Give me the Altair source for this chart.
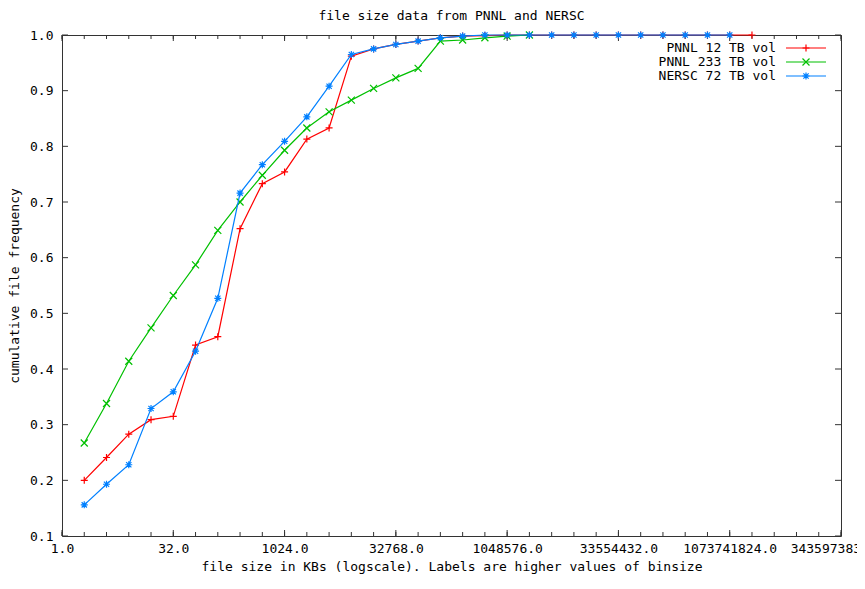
import altair as alt
import pandas as pd

# ---------------- data ----------------
series_names = ["PNNL 12 TB vol", "PNNL 233 TB vol", "NERSC 72 TB vol"]
series_colors = ["#ff0000", "#00c000", "#0080ff"]
legend_rows = [0, 1, 2]

# upper bin edge in KB (x values)
bin_kb = [2, 4, 8, 16, 32, 64, 128, 256, 512, 1024, 2048, 4096, 8192, 16384,
          32768, 65536, 131072, 262144, 524288, 1048576, 2097152, 4194304,
          8388608, 16777216, 33554432, 67108864, 134217728, 268435456,
          536870912, 1073741824, 2147483648]

pnnl12 = [0.200, 0.241, 0.283, 0.309, 0.315, 0.443, 0.458, 0.652, 0.733, 0.754,
          0.813, 0.833, 0.962, 0.975, 0.983, 0.989, 0.995, 0.998, 0.999, 1.0,
          1.0, 1.0, 1.0, 1.0, 1.0, 1.0, 1.0, 1.0, 1.0, 1.0, 1.0]
pnnl233 = [0.267, 0.338, 0.414, 0.474, 0.532, 0.587, 0.649, 0.700, 0.748, 0.793,
           0.833, 0.862, 0.883, 0.904, 0.923, 0.940, 0.989, 0.991, 0.995, 0.998,
           1.0]
nersc72 = [0.156, 0.193, 0.228, 0.329, 0.359, 0.432, 0.527, 0.716, 0.767, 0.809,
           0.853, 0.908, 0.965, 0.975, 0.983, 0.989, 0.995, 0.998, 1.0, 1.0,
           1.0, 1.0, 1.0, 1.0, 1.0, 1.0, 1.0, 1.0, 1.0, 1.0]

x_major = [1, 32, 1024, 32768, 1048576, 33554432, 1073741824, 34359738368]
x_minor = [2 ** k for k in range(36)]
y_ticks = [0.1, 0.2, 0.3, 0.4, 0.5, 0.6, 0.7, 0.8, 0.9, 1.0]

title_text = "file size data from PNNL and NERSC"
x_title = "file size in KBs (logscale). Labels are higher values of binsize"
y_title = "cumulative file frequency"

# ---------------- styling ----------------
FONT = "DejaVu Sans Mono"
FS = 13
W, H = 779, 501
BORDER = "#333333"
shape_paths = [
    "M-1,0L1,0M0,-1L0,1",                                        # +
    "M-1,-1L1,1M-1,1L1,-1",                                      # x
    "M-1,0L1,0M0,-1L0,1M-0.75,-0.75L0.75,0.75M-0.75,0.75L0.75,-0.75",  # *
]

frames = []
for name, vals in zip(series_names, [pnnl12, pnnl233, nersc72]):
    frames.append(pd.DataFrame({"kb": bin_kb[:len(vals)], "freq": vals, "series": name}))
df = pd.concat(frames, ignore_index=True)

xs = alt.Scale(type="log", base=2, domain=[1, 2 ** 35], nice=False)
ys = alt.Scale(domain=[0.1, 1.0], nice=False, zero=False)

xaxis = alt.Axis(values=x_major, format=".1f", ticks=False, domain=False, grid=False,
                 labelPadding=6, labelFlush=False, labelOverlap=False,
                 title=x_title, titlePadding=5)
yaxis = alt.Axis(values=y_ticks, format=".1f", ticks=False, domain=False, grid=False,
                 labelPadding=9, title=y_title, titlePadding=8)

# ---- tick marks (gnuplot style: inward, mirrored) ----
xmaj_df = pd.DataFrame({"xt": x_major})
xmin_df = pd.DataFrame({"xt": x_minor})
yt_df = pd.DataFrame({"yt": y_ticks})

tick_layers = []
for tdf, ln in [(xmin_df, 4), (xmaj_df, 6)]:
    tick_layers.append(alt.Chart(tdf).mark_rule(color=BORDER, strokeWidth=1).encode(
        x=alt.X("xt:Q", scale=xs, axis=xaxis), y=alt.value(H), y2=alt.value(H - ln)))
    tick_layers.append(alt.Chart(tdf).mark_rule(color=BORDER, strokeWidth=1).encode(
        x=alt.X("xt:Q", scale=xs, axis=xaxis), y=alt.value(0), y2=alt.value(ln)))
tick_layers.append(alt.Chart(yt_df).mark_rule(color=BORDER, strokeWidth=1).encode(
    y=alt.Y("yt:Q", scale=ys, axis=yaxis), x=alt.value(0), x2=alt.value(6)))
tick_layers.append(alt.Chart(yt_df).mark_rule(color=BORDER, strokeWidth=1).encode(
    y=alt.Y("yt:Q", scale=ys, axis=yaxis), x=alt.value(W), x2=alt.value(W - 6)))

# ---- series ----
series_layers = []
for name, col, shp in zip(series_names, series_colors, shape_paths):
    base = alt.Chart(df).transform_filter(alt.datum.series == name)
    enc = dict(x=alt.X("kb:Q", scale=xs, axis=xaxis),
               y=alt.Y("freq:Q", scale=ys, axis=yaxis))
    series_layers.append(base.mark_line(color=col, strokeWidth=1.2, clip=False).encode(**enc))
    series_layers.append(base.mark_point(color=col, shape=shp, filled=False, size=49,
                                         strokeWidth=1.2, opacity=1, clip=False).encode(**enc))

main = alt.layer(*tick_layers, *series_layers)

# ---- key (gnuplot style: label left of sample) ----
leg_df = pd.DataFrame({"series": series_names, "row": legend_rows,
                       "color": series_colors, "shape": shape_paths})
ly = alt.Y("row:Q", scale=alt.Scale(domain=[0, 2], range=[13, 41], nice=False, zero=False),
           axis=None)
leg_text = alt.Chart(leg_df).mark_text(align="right", baseline="middle", font=FONT,
                                       fontSize=FS, color="black").encode(
    x=alt.value(714), y=ly, text="series:N")
leg_rule = alt.Chart(leg_df).mark_rule(strokeWidth=1.2).encode(
    x=alt.value(724), x2=alt.value(764), y=ly, color=alt.Color("color:N", scale=None))
leg_pt = alt.Chart(leg_df).mark_point(filled=False, size=49, strokeWidth=1.2, opacity=1).encode(
    x=alt.value(744), y=ly, color=alt.Color("color:N", scale=None),
    shape=alt.Shape("shape:N", scale=None))
legend = alt.layer(leg_text, leg_rule, leg_pt)

chart = alt.layer(main, legend).resolve_scale(y="independent").properties(
    width=W, height=H,
    title=alt.Title(title_text, font=FONT, fontSize=FS, fontWeight="normal",
                    color="black", anchor="middle", offset=6),
    autosize=alt.AutoSizeParams(type="none"),
    padding={"left": 54, "top": 27, "right": 16, "bottom": 38},
).configure_view(stroke=BORDER, strokeWidth=1).configure_axis(
    labelFont=FONT, titleFont=FONT, labelFontSize=FS, titleFontSize=FS,
    labelColor="black", titleColor="black", titleFontWeight="normal",
)

chart.save("out.html", embed_options={"renderer": "svg", "actions": False})
